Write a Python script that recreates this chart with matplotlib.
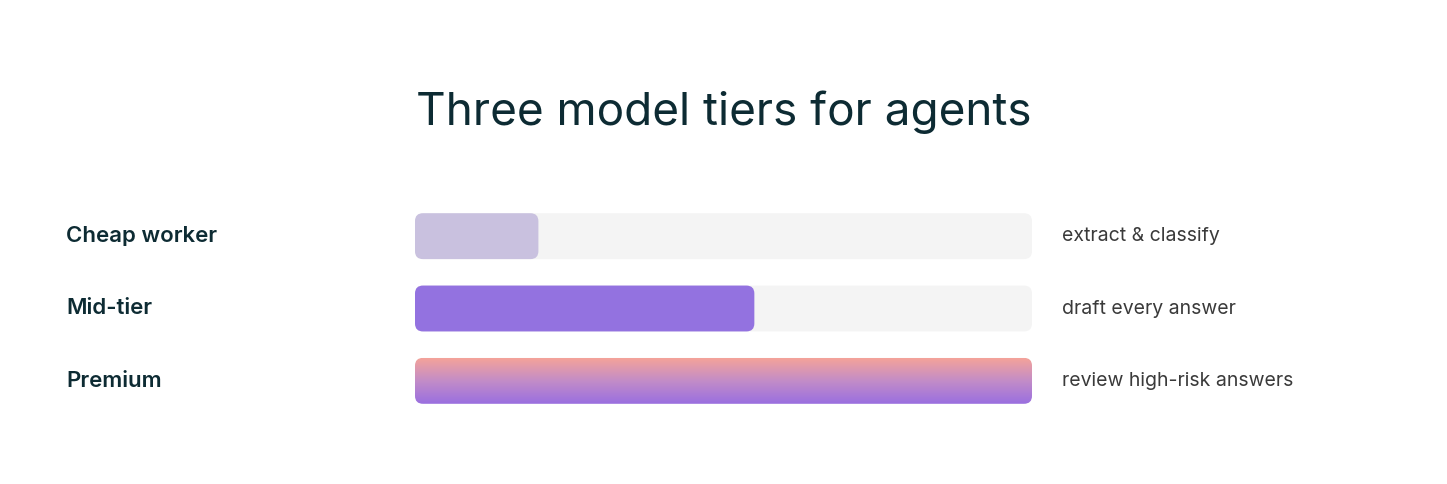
import numpy as np
import matplotlib.pyplot as plt
from matplotlib.patches import FancyBboxPatch
from matplotlib.colors import LinearSegmentedColormap

plt.rcParams['font.family'] = ['Inter', 'DejaVu Sans']

tiers = ["Cheap worker", "Mid-tier", "Premium"]
shares = [0.2, 0.55, 1.0]
uses = ["extract & classify", "draft every answer", "review high-risk answers"]
colors = ["#c9c1df", "#9372e0", None]

W, H = 1447, 484
fig = plt.figure(figsize=(W / 100, H / 100), dpi=100)
fig.patch.set_facecolor("white")
fig.text(0.5, 1 - 112 / H, "Three model tiers for agents", ha="center", va="center",
         fontsize=33, color="#0d2b33")

ax = fig.add_axes([415 / W, 1 - 417 / H, 617 / W, 217 / H])
ax.set_xlim(0, 1)
ax.set_ylim(2.5, -0.5)
ax.axis("off")

bh = 46 / 72.5
asp = 617 / 72.5
r = 8 / 617
style = f"round,pad=0,rounding_size={r}"
grad = LinearSegmentedColormap.from_list("g", ["#f4a39a", "#c28cc8", "#9a6fe0"])

for i, (name, v, use, c) in enumerate(zip(tiers, shares, uses, colors)):
    track = FancyBboxPatch((0, i - bh / 2), 1, bh, boxstyle=style,
                           mutation_aspect=asp, fc="#f4f4f4", ec="none")
    ax.add_patch(track)
    bar = FancyBboxPatch((0, i - bh / 2), v, bh, boxstyle=style,
                         mutation_aspect=asp, fc=c if c else "none", ec="none")
    ax.add_patch(bar)
    if c is None:
        img = ax.imshow(np.linspace(0, 1, 100).reshape(-1, 1), cmap=grad, aspect="auto",
                        extent=(0, v, i + bh / 2, i - bh / 2), zorder=3)
        img.set_clip_path(bar)
    ax.text(-349 / 617, i, name, ha="left", va="center", fontsize=16,
            fontweight="semibold", color="#0d2b33", clip_on=False)
    ax.text(1 + 30 / 617, i, use, ha="left", va="center", fontsize=14,
            color="#3a3a3a", clip_on=False)

ax.set_xlim(0, 1)
ax.set_ylim(2.5, -0.5)
fig.savefig("out.png", dpi=100, facecolor="white")
